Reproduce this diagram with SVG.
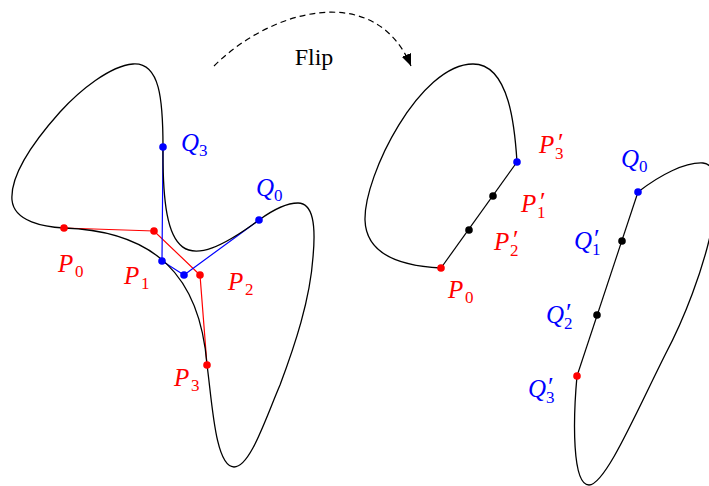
<svg xmlns="http://www.w3.org/2000/svg" width="709" height="486" viewBox="0 0 709 486">
<defs>
<style>
.curve{fill:none;stroke:#000;stroke-width:1.3;stroke-linejoin:round}
.rl{fill:none;stroke:#ff0000;stroke-width:1.2}
.bl{fill:none;stroke:#0000ff;stroke-width:1.2}
.kl{fill:none;stroke:#000;stroke-width:1.2}
.rd{fill:#ff0000}
.bd{fill:#0000ff}
.kd{fill:#000}
.m{font-family:"Liberation Serif",serif;font-style:italic;font-size:25px}
.s{font-family:"Liberation Serif",serif;font-size:17px}
.pr{font-family:"Liberation Serif",serif;font-size:26px}
.red{fill:#ff0000}
.blue{fill:#0000ff}
.flip{font-family:"Liberation Serif",serif;font-size:24px;fill:#000}
</style>
<marker id="arr" markerUnits="userSpaceOnUse" markerWidth="14" markerHeight="12" refX="12" refY="5" orient="auto">
<path d="M0,0 L12,5 L0,10 z" fill="#000"/>
</marker>
</defs>

<g id="connectors">
<path id="flip-arrow" d="M 214,66 C 270,10 375,-20 411,66" fill="none" stroke="#000" stroke-width="1.2" stroke-dasharray="6 4" marker-end="url(#arr)"/>
<polyline points="64,228 154,231 200,275 207,365" class="rl"/>
<polyline points="259,220 184,275 162,261 163,147" class="bl"/>
<line x1="441" y1="268" x2="517" y2="162" class="kl"/>
<line x1="638" y1="192" x2="577" y2="376" class="kl"/>
</g>

<g id="left-shape">
<path class="curve" d="M 64,228 C 154,231 200,275 207,365 C 212,400 215,467 234,467 C 250,467 265,420 280,385 C 295,345 310,300 313,257 C 316,225 313,203 298,203 C 285,203 270,212 259,220 C 184,275 162,261 163,147 C 163,100 160,62 133,64 C 110,66 80,90 60,112 C 35,140 10,175 12,200 C 14,222 45,227 64,228 Z"/>
</g>

<g id="right-shape-p">
<path class="curve" d="M 441,268 C 400,266 366,255 365,220 C 364,175 420,64 473,64 C 510,64 515,130 517,162"/>
</g>

<g id="right-shape-q">
<path class="curve" d="M 638,192 C 660,175 685,162 703,163 C 735,166 705,280 665,355 C 635,415 605,485 589,485 C 572,485 573,420 577,376"/>
</g>

<g id="flip-label"><text class="flip" x="314" y="65" text-anchor="middle">Flip</text></g>

<g id="P0"><circle cx="64" cy="228" r="3.8" class="rd"/><text class="red"><tspan class="m" x="58" y="272">P</tspan><tspan class="s" x="75" y="277">0</tspan></text></g>
<g id="P1"><circle cx="154" cy="231" r="3.8" class="rd"/><text class="red"><tspan class="m" x="124" y="284">P</tspan><tspan class="s" x="141" y="289">1</tspan></text></g>
<g id="P2"><circle cx="200" cy="275" r="3.8" class="rd"/><text class="red"><tspan class="m" x="228" y="290">P</tspan><tspan class="s" x="245" y="295">2</tspan></text></g>
<g id="P3"><circle cx="207" cy="365" r="3.8" class="rd"/><text class="red"><tspan class="m" x="174" y="386">P</tspan><tspan class="s" x="191" y="391">3</tspan></text></g>

<g id="Q0"><circle cx="259" cy="220" r="3.8" class="bd"/><text class="blue"><tspan class="m" x="256" y="196">Q</tspan><tspan class="s" x="274" y="201">0</tspan></text></g>
<g id="Q1"><circle cx="184" cy="275" r="3.8" class="bd"/></g>
<g id="Q2"><circle cx="162" cy="261" r="3.8" class="bd"/></g>
<g id="Q3"><circle cx="163" cy="147" r="3.8" class="bd"/><text class="blue"><tspan class="m" x="181" y="151">Q</tspan><tspan class="s" x="199" y="156">3</tspan></text></g>

<g id="rP0"><circle cx="441" cy="268" r="3.8" class="rd"/><text class="red"><tspan class="m" x="448" y="298">P</tspan><tspan class="s" x="465" y="303">0</tspan></text></g>
<g id="rP2p"><circle cx="469" cy="230" r="3.8" class="kd"/><text class="red"><tspan class="m" x="494" y="250">P</tspan><tspan class="pr" x="513" y="248">′</tspan><tspan class="s" x="510" y="256">2</tspan></text></g>
<g id="rP1p"><circle cx="493" cy="196" r="3.8" class="kd"/><text class="red"><tspan class="m" x="521" y="212">P</tspan><tspan class="pr" x="540" y="210">′</tspan><tspan class="s" x="537" y="218">1</tspan></text></g>
<g id="rP3p"><circle cx="517" cy="162" r="3.8" class="bd"/><text class="red"><tspan class="m" x="539" y="153">P</tspan><tspan class="pr" x="558" y="151">′</tspan><tspan class="s" x="555" y="159">3</tspan></text></g>

<g id="rQ0"><circle cx="638" cy="192" r="3.8" class="bd"/><text class="blue"><tspan class="m" x="621" y="167">Q</tspan><tspan class="s" x="639" y="172">0</tspan></text></g>
<g id="rQ1p"><circle cx="622" cy="241" r="3.8" class="kd"/><text class="blue"><tspan class="m" x="574" y="249">Q</tspan><tspan class="pr" x="594" y="247">′</tspan><tspan class="s" x="592" y="255">1</tspan></text></g>
<g id="rQ2p"><circle cx="597" cy="315" r="3.8" class="kd"/><text class="blue"><tspan class="m" x="546" y="323">Q</tspan><tspan class="pr" x="566" y="321">′</tspan><tspan class="s" x="564" y="329">2</tspan></text></g>
<g id="rQ3p"><circle cx="577" cy="376" r="3.8" class="rd"/><text class="blue"><tspan class="m" x="528" y="397">Q</tspan><tspan class="pr" x="548" y="395">′</tspan><tspan class="s" x="546" y="403">3</tspan></text></g>
</svg>
